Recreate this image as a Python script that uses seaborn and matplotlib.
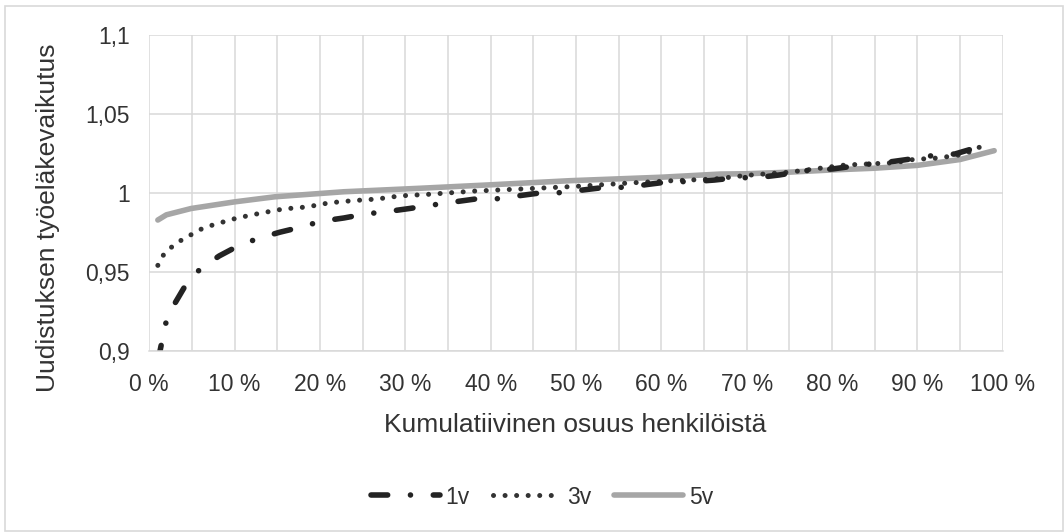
import matplotlib
matplotlib.use("Agg")
import matplotlib.pyplot as plt
import seaborn as sns
import pandas as pd
from matplotlib.patches import Rectangle

# ---- data ----
x_1v = [1.0, 1.9, 3.0, 4.2, 6.0, 8.2, 10.3, 12.7, 15.3, 17.6, 20.2, 22.8, 25.3, 27.8,
        30.5, 32.9, 35.5, 38.2, 40.5, 43.2, 46.0, 48.0, 50.8, 53.4, 55.9, 58.5, 61.0,
        63.6, 66.2, 68.8, 71.2, 73.8, 77.0, 80.0, 84.2, 86.8, 89.2, 91.8, 94.4, 96.9, 98.0]
y_1v = [0.893, 0.917, 0.930, 0.941, 0.952, 0.960, 0.966, 0.971, 0.975, 0.978, 0.982, 0.984,
        0.9865, 0.988, 0.990, 0.992, 0.994, 0.996, 0.996, 0.998, 1.000, 1.000, 1.0017,
        1.0034, 1.0034, 1.0053, 1.007, 1.007, 1.008, 1.0095, 1.0095, 1.0112, 1.014, 1.015,
        1.018, 1.0195, 1.0213, 1.0235, 1.0245, 1.0285, 1.0285]

x_3v = [1.0, 1.7, 2.7, 3.9, 5.1, 6.3, 7.7, 9.0, 10.3, 13.0, 15.7, 18.5, 21.1, 23.9, 26.7,
        29.4, 32.8, 38.0, 45.4, 50.0, 56.7, 61.0, 66.3, 70.0, 75.0, 81.5, 87.4, 89.5,
        92.5, 95.7, 96.9, 98.4]
y_3v = [0.954, 0.961, 0.966, 0.9705, 0.974, 0.9776, 0.980, 0.982, 0.984, 0.987, 0.9897,
        0.991, 0.9936, 0.995, 0.996, 0.998, 0.999, 1.001, 1.0028, 1.004, 1.0063, 1.0075,
        1.0087, 1.011, 1.013, 1.0175, 1.019, 1.021, 1.022, 1.0245, 1.0287, 1.0287]

x_5v = [1.0, 2.0, 4.9, 10.0, 14.7, 20.0, 22.8, 31.7, 40.0, 49.3, 60.0, 66.9, 70.0, 75.0,
        80.0, 85.0, 90.0, 95.0, 99.0]
y_5v = [0.9827, 0.986, 0.990, 0.9942, 0.9974, 0.9995, 1.0006, 1.0028, 1.005, 1.0076,
        1.0098, 1.0118, 1.0120, 1.013, 1.0144, 1.0155, 1.0173, 1.021, 1.0266]

series_names = ["1v", "3v", "5v"]
x_ticks = [0, 10, 20, 30, 40, 50, 60, 70, 80, 90, 100]
x_tick_labels = ["0 %", "10 %", "20 %", "30 %", "40 %", "50 %", "60 %", "70 %", "80 %", "90 %", "100 %"]
y_ticks = [0.9, 0.95, 1.0, 1.05, 1.1]
y_tick_labels = ["0,9", "0,95", "1", "1,05", "1,1"]
x_title = "Kumulatiivinen osuus henkilöistä"
y_title = "Uudistuksen työeläkevaikutus"

# ---- style ----
sns.set_theme(style="white")
plt.rcParams["font.family"] = ["Liberation Sans", "DejaVu Sans"]
text_color = "#333333"
grid_color = "#d9d9d9"

W, H = 1064, 532
fig = plt.figure(figsize=(W / 100, H / 100), dpi=100)
ax = fig.add_axes([149.3 / W, 1 - 350.7 / H, (1002.7 - 149.3) / W, (350.7 - 34.7) / H])

dfs = [pd.DataFrame({"x": x_1v, "y": y_1v}),
       pd.DataFrame({"x": x_3v, "y": y_3v}),
       pd.DataFrame({"x": x_5v, "y": y_5v})]
colors = ["#232323", "#333333", "#a6a6a6"]
widths = [4.0, 3.6, 4.0]
order = [2, 1, 0]  # draw 5v first, then 3v, then 1v on top
lines = {}
for i in order:
    sns.lineplot(data=dfs[i], x="x", y="y", ax=ax, color=colors[i], linewidth=widths[i],
                 label=series_names[i], legend=False, sort=True, estimator=None)
    lines[i] = ax.lines[-1]

lines[0].set_dashes((3.0, 4.1, 0.01, 4.1))
lines[0].set_dash_capstyle("round")
lines[1].set_dashes((0.01, 2.3))
lines[1].set_dash_capstyle("round")
lines[2].set_solid_capstyle("round")
for ln in lines.values():
    ln.set_solid_joinstyle("round")

ax.set_xlim(0, 100)
ax.set_ylim(0.9, 1.1)
ax.set_xticks(x_ticks)
ax.set_xticklabels(x_tick_labels)
ax.set_xticks(list(range(5, 100, 10)), minor=True)
ax.set_yticks(y_ticks)
ax.set_yticklabels(y_tick_labels)
ax.grid(True, which="both", axis="x", color=grid_color, linewidth=1.1)
ax.grid(True, which="major", axis="y", color=grid_color, linewidth=1.1)
ax.set_axisbelow(True)
for s in ["top", "right", "left"]:
    ax.spines[s].set_visible(False)
ax.spines["bottom"].set_color(grid_color)
ax.spines["bottom"].set_linewidth(1.1)
ax.tick_params(axis="both", which="both", length=0, labelsize=16.5, colors=text_color)
ax.tick_params(axis="x", pad=16)
ax.tick_params(axis="y", pad=14)
ax.set_xlabel("")
ax.set_ylabel("")

fig.text(575.5 / W, 1 - 425 / H, x_title, ha="center", va="center", fontsize=19, color=text_color)
fig.text(48 / W, 1 - 218 / H, y_title, ha="center", va="center", rotation=90, fontsize=19,
         color=text_color)

handles = [lines[0], lines[1], lines[2]]
fig.legend(handles, series_names, loc="center", bbox_to_anchor=(542 / W, 1 - 497 / H),
           ncol=3, frameon=False, fontsize=16.5, handlelength=3.0, handletextpad=0.25,
           columnspacing=1.0, labelcolor=text_color)

fig.patches.append(Rectangle((5 / W, 1 / H), (1063 - 5) / W, (531 - 6) / H,
                             transform=fig.transFigure, fill=False, edgecolor=grid_color,
                             linewidth=1.2))

fig.savefig("out.png", dpi=100)
